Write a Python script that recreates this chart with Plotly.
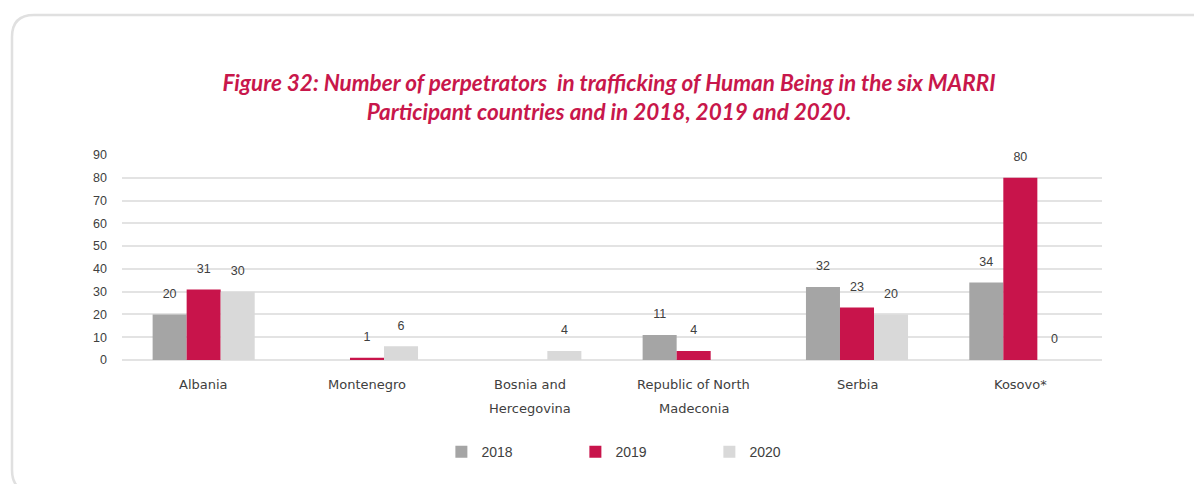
import plotly.graph_objects as go

categories = ["Albania", "Montenegro", "Bosnia and Hercegovina",
              "Republic of North Madeconia", "Serbia", "Kosovo*"]
category_lines = [["Albania"], ["Montenegro"], ["Bosnia and", "Hercegovina"],
                  ["Republic of North", "Madeconia"], ["Serbia"], ["Kosovo*"]]
v2018 = [20, None, None, 11, 32, 34]
v2019 = [31, 1, None, 4, 23, 80]
v2020 = [30, 6, 4, None, 20, 0]
series = [("2018", v2018, "#a5a5a5"), ("2019", v2019, "#c8144b"), ("2020", v2020, "#d9d9d9")]
y_ticks = list(range(0, 100, 10))

W, H = 1202, 484
ml, mr, mt, mb = 114, 108, 147, 132
pw, ph = W - ml - mr, H - mt - mb
TXT = "#404040"
FONT = "Liberation Sans, Arial"

fig = go.Figure()
for name, vals, col in series:
    fig.add_trace(go.Bar(
        name=name, x=categories, y=vals, marker_color=col, marker_line_width=0,
        hoverinfo="x+y+name",
    ))
# data labels as grouped scatter text (offset above bar tops)
for name, vals, col in series:
    fig.add_trace(go.Scatter(
        x=categories, y=vals, mode="markers+text", showlegend=False,
        text=[("" if v is None else str(v)) for v in vals],
        textposition="top center", cliponaxis=False, hoverinfo="skip",
        marker=dict(size=20, opacity=0),
        textfont=dict(family=FONT, size=12.5, color=TXT),
    ))

def px2x(p):
    return (p - ml) / pw
def py2y(p):
    return (H - mb - p) / ph

# category labels (one annotation per line for wider line spacing)
for cat, lines in zip(categories, category_lines):
    for i, line in enumerate(lines):
        fig.add_annotation(x=cat, xref="x", y=py2y(376 + 24 * i), yref="paper",
                           text=line, showarrow=False, xanchor="center", yanchor="middle",
                           font=dict(family="DejaVu Sans", size=13, color=TXT))

# rounded card border
x0, x1, y0, y1 = px2x(4), px2x(1212), py2y(7), py2y(484)
rx, ry = 22 / pw, 22 / ph
path = (f"M {x0+rx},{y0} L {x1-rx},{y0} Q {x1},{y0} {x1},{y0-ry} "
        f"L {x1},{y1+ry} Q {x1},{y1} {x1-rx},{y1} L {x0+rx},{y1} "
        f"Q {x0},{y1} {x0},{y1+ry} L {x0},{y0-ry} Q {x0},{y0} {x0+rx},{y0} Z")
fig.add_shape(type="path", path=path, xref="paper", yref="paper",
              line=dict(color="#e0e0e0", width=2.5), fillcolor="rgba(0,0,0,0)", layer="below")

fig.update_layout(
    width=W, height=H,
    margin=dict(l=ml, r=mr, t=mt, b=mb),
    paper_bgcolor="white", plot_bgcolor="white",
    barmode="group", bargap=0.375, bargroupgap=0,
    scattermode="group", scattergap=0.375,
    title=dict(
        text="<b><i>Figure 32: Number of perpetrators  in trafficking of Human Being in the six MARRI<br>Participant countries and in 2018, 2019 and 2020.</i></b>",
        x=0.5, xanchor="center", y=0.828, yanchor="middle",
        font=dict(family="Lato, Open Sans", size=22.5, color="#c8174b"),
    ),
    xaxis=dict(showgrid=False, showline=False, ticks="", showticklabels=False),
    yaxis=dict(range=[0, 90], tickvals=y_ticks, showgrid=True, gridcolor="#e3e3e3", gridwidth=2,
               zeroline=True, zerolinecolor="#e3e3e3", zerolinewidth=2,
               tickfont=dict(family=FONT, size=12.5, color=TXT),
               ticklabelstandoff=14),
    legend=dict(orientation="h", x=0.531, xanchor="center", y=-0.449, yanchor="middle",
                font=dict(family=FONT, size=14, color=TXT),
                itemwidth=30, entrywidth=89),
    showlegend=True,
)
fig.write_html("out.html")
